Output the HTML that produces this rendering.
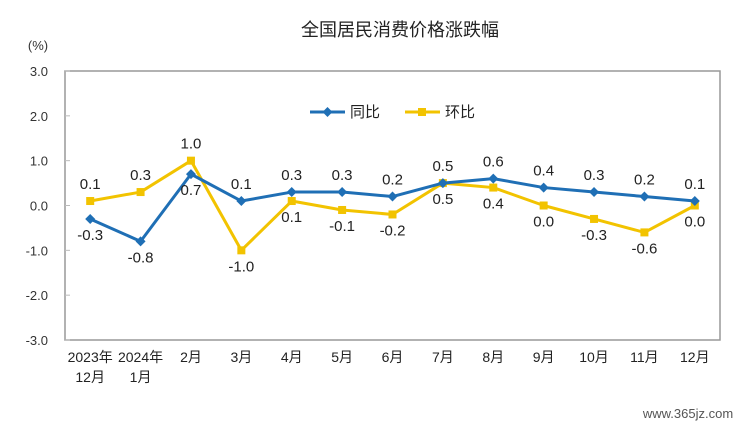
<!DOCTYPE html>
<html><head><meta charset="utf-8">
<style>
body{margin:0;background:#fff;}
svg{display:block;font-family:"Liberation Sans","Noto Sans CJK SC",sans-serif;}
</style></head>
<body>
<svg id="chart" width="750" height="430">
<text x="400" y="36" text-anchor="middle" font-size="18" fill="#222">全国居民消费价格涨跌幅</text>
<text x="38" y="50" text-anchor="middle" font-size="13" fill="#333">(%)</text>
<rect x="65" y="71" width="655" height="269" fill="none" stroke="#999" stroke-width="1.5"/>
<g id="yticks"></g><g id="xticks"></g><g id="series"></g>
<g>
<g>
<line x1="310" y1="112" x2="345" y2="112" stroke="#1f6fb5" stroke-width="3"/>
<path d="M327.5 107 L332.5 112 L327.5 117 L322.5 112Z" fill="#1f6fb5"/>
<text x="350" y="117" font-size="15" fill="#222">同比</text></g>
<g>
<line x1="405" y1="112" x2="440" y2="112" stroke="#f2c300" stroke-width="3"/>
<rect x="418" y="108" width="8" height="8" fill="#f2c300"/>
<text x="445" y="117" font-size="15" fill="#222">环比</text></g>
</g>
<text x="688" y="418" text-anchor="middle" font-size="13" fill="#555">www.365jz.com</text>
</svg>
<script>
const categories=[["2023年","12月"],["2024年","1月"],["2月"],["3月"],["4月"],["5月"],["6月"],["7月"],["8月"],["9月"],["10月"],["11月"],["12月"]];
const yoyValues=[-0.3,-0.8,0.7,0.1,0.3,0.3,0.2,0.5,0.6,0.4,0.3,0.2,0.1];
const momValues=[0.1,0.3,1.0,-1.0,0.1,-0.1,-0.2,0.5,0.4,0.0,-0.3,-0.6,0.0];
const yTicks=[3,2,1,0,-1,-2,-3];
const yoyLabelBelow=[1,1,1,0,0,0,0,0,0,0,0,0,0];
const momLabelBelow=[0,0,0,1,1,1,1,1,1,1,1,1,1];
const NS="http://www.w3.org/2000/svg";
const L=65,R=720,T=71,B=340,ymin=-3,ymax=3;
const step=(R-L)/categories.length;
const xs=i=>L+step*(i+0.5);
const ys=v=>B-(v-ymin)/(ymax-ymin)*(B-T);
function mk(tag,attrs,parent,text){const e=document.createElementNS(NS,tag);for(const k in attrs)e.setAttribute(k,attrs[k]);if(text!==undefined)e.textContent=text;parent.appendChild(e);return e;}
const yg=document.getElementById('yticks');
yTicks.forEach(v=>{
 const t=mk('text',{x:48,y:ys(v)+5,'text-anchor':'end','font-size':13,fill:'#333'},yg,v.toFixed(1));
 
 
 const l=mk('line',{x1:L,x2:L+5,y1:ys(v),y2:ys(v),stroke:'#bbb'},yg);
 
 
});
const xg=document.getElementById('xticks');
categories.forEach((c,i)=>{
 c.forEach((s,j)=>{
  const t=mk('text',{x:xs(i),y:362+j*20,'text-anchor':'middle','font-size':14,fill:'#222'},xg,s);
  
  
 });
});
const sg=document.getElementById('series');
function drawSeries(vals,color,name,below,square){
 const pts=vals.map((v,i)=>xs(i)+','+ys(v)).join(' ');
 const pl=mk('polyline',{points:pts,fill:'none',stroke:color,'stroke-width':3,'stroke-linejoin':'round'},sg);
 
 
 vals.forEach((v,i)=>{
  const x=xs(i),y=ys(v);
  let m;
  if(square){m=mk('rect',{x:x-4,y:y-4,width:8,height:8,fill:color},sg);}
  else{m=mk('path',{d:`M${x} ${y-5}L${x+5} ${y}L${x} ${y+5}L${x-5} ${y}Z`,fill:color},sg);}
  
  
  const ly=below[i]?y+21:y-12;
  const t=mk('text',{x:x,y:ly,'text-anchor':'middle','font-size':15,fill:'#222'},sg,v.toFixed(1));
  
  
 });
}
drawSeries(momValues,'#f2c300','mom',momLabelBelow,true);
drawSeries(yoyValues,'#1f6fb5','yoy',yoyLabelBelow,false);
</script>
</body></html>
